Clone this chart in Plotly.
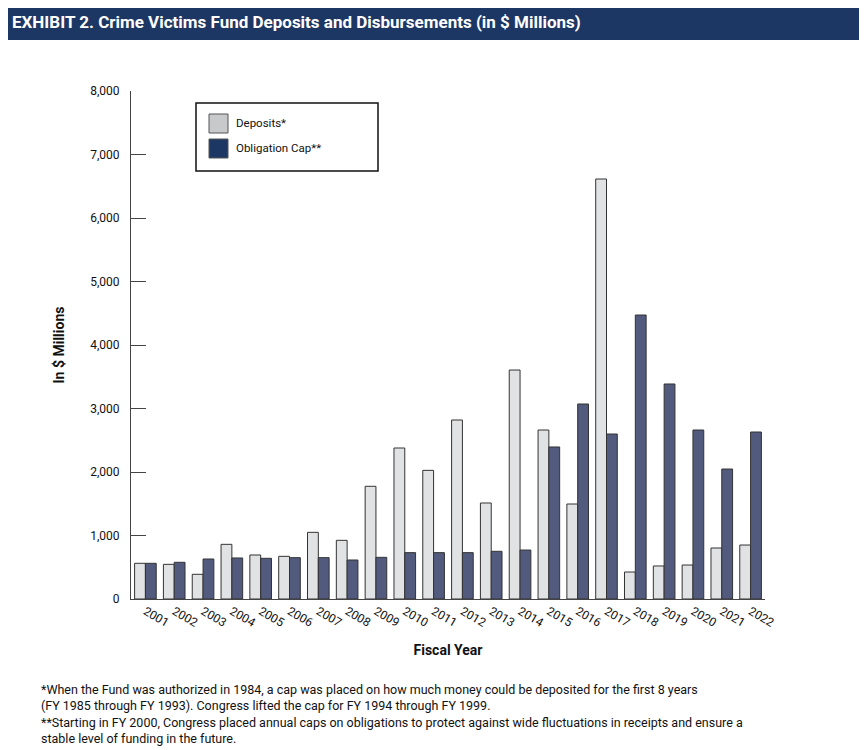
import plotly.graph_objects as go

years = [str(y) for y in range(2001, 2023)]
deposits = [562, 546, 389, 861, 693, 672, 1050, 924, 1775, 2378, 2026, 2819, 1512, 3606, 2661, 1496, 6614, 425, 520, 535, 803, 850]
caps = [562, 578, 630, 646, 641, 651, 651, 614, 656, 730, 730, 730, 751, 771, 2394, 3071, 2598, 4472, 3386, 2661, 2047, 2630]
yticks = [0, 1000, 2000, 3000, 4000, 5000, 6000, 7000, 8000]

fig = go.Figure()
fig.add_bar(x=years, y=deposits, name="Deposits*", marker=dict(color="#e1e2e4", line=dict(color="#333", width=1)), showlegend=False)
fig.add_bar(x=years, y=caps, name="Obligation Cap**", marker=dict(color="#525a7d", line=dict(color="#333", width=1)), showlegend=False)

F = "Roboto"
W, H = 634, 508
def px(x): return (x - 131) / W
def py(y): return (599 - y) / H

fig.update_layout(
    width=867, height=750, paper_bgcolor="white", plot_bgcolor="white",
    margin=dict(l=123, r=110, t=83, b=159),
    barmode="group", bargap=0.25, bargroupgap=0.0,
    font=dict(family=F, size=12, color="#111"),
    xaxis=dict(showline=True, linecolor="#444", ticks="", tickfont=dict(size=12),
               title=dict(text="<b>Fiscal Year</b>", font=dict(size=14), standoff=16)),
    yaxis=dict(range=[0, 8000], tickvals=yticks, tickformat=",", showgrid=False, showline=True,
               linecolor="#444", ticks="inside", ticklen=15, tickcolor="#444", zeroline=False,
               tickfont=dict(size=12), ticklabelstandoff=8,
               title=dict(text="<b>In $ Millions</b>", font=dict(size=14), standoff=22)),
    shapes=[
        dict(type="rect", xref="paper", yref="paper", x0=-0.3, x1=1.3, y0=py(40), y1=py(-10),
             fillcolor="#1d3764", line=dict(width=0)),
        dict(type="rect", xref="paper", yref="paper", x0=px(196), x1=px(378),
             y0=py(171), y1=py(103), line=dict(color="#111", width=1.5), fillcolor="white"),
        dict(type="rect", xref="paper", yref="paper", x0=px(209), x1=px(228),
             y0=py(133), y1=py(114), line=dict(color="#555", width=1), fillcolor="#c8c9cb"),
        dict(type="rect", xref="paper", yref="paper", x0=px(209), x1=px(228),
             y0=py(158), y1=py(139), line=dict(color="#555", width=1), fillcolor="#1d3764"),
    ],
    annotations=[
        dict(text="<b>EXHIBIT 2. Crime Victims Fund Deposits and Disbursements (in $ Millions)</b>",
             xref="paper", yref="paper", x=px(10), y=py(22), xanchor="left", yanchor="middle",
             showarrow=False, font=dict(size=17, color="white")),
        dict(text="Deposits*", xref="paper", yref="paper", x=px(234), y=py(123),
             xanchor="left", yanchor="middle", showarrow=False, font=dict(size=11.5)),
        dict(text="Obligation Cap**", xref="paper", yref="paper", x=px(234), y=py(148),
             xanchor="left", yanchor="middle", showarrow=False, font=dict(size=11.5)),
        dict(text="*When the Fund was authorized in 1984, a cap was placed on how much money could be deposited for the first 8 years<br>"
                  "(FY 1985 through FY 1993). Congress lifted the cap for FY 1994 through FY 1999.<br>"
                  "**Starting in FY 2000, Congress placed annual caps on obligations to protect against wide fluctuations in receipts and ensure a<br>"
                  "stable level of funding in the future.",
             xref="paper", yref="paper", x=px(39), y=py(680), xanchor="left", yanchor="top",
             align="left", showarrow=False, font=dict(size=12.5, color="#111")),
    ],
)
fig.write_html("out.html")
